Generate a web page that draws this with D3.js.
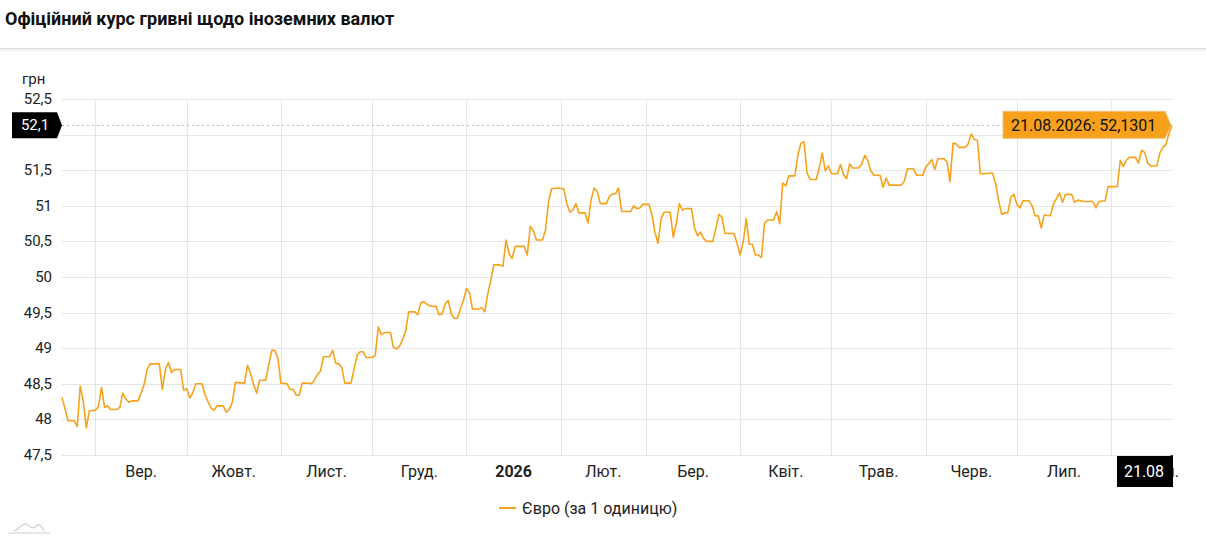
<!DOCTYPE html>
<html lang="uk">
<head>
<meta charset="UTF-8">
<title>Офіційний курс гривні</title>
<style>
  body { margin: 0; background: #fff; font-family: Roboto, "Open Sans", sans-serif; }
  .title { font-weight: bold; font-size: 18px; fill: #111; }
  .tick-label { font-size: 15px; fill: #222; }
  .x-label { font-size: 16px; fill: #222; }
</style>
</head>
<body>
<div id="chart"></div>
<script src="https://d3js.org/d3.v7.min.js"></script>
<script>
// euro rate (dates where the line turns)
var dates = [
  "2025-08-21","2025-08-23","2025-08-25","2025-08-26","2025-08-27","2025-08-28","2025-08-29","2025-08-30",
  "2025-09-01","2025-09-02","2025-09-03","2025-09-04","2025-09-05","2025-09-06","2025-09-08","2025-09-09",
  "2025-09-10","2025-09-11","2025-09-12","2025-09-13","2025-09-15","2025-09-16","2025-09-17","2025-09-18",
  "2025-09-19","2025-09-22","2025-09-23","2025-09-24","2025-09-25","2025-09-26","2025-09-27","2025-09-29",
  "2025-09-30","2025-10-01","2025-10-02","2025-10-03","2025-10-04","2025-10-06","2025-10-07","2025-10-08",
  "2025-10-09","2025-10-10","2025-10-11","2025-10-13","2025-10-14","2025-10-15","2025-10-16","2025-10-17",
  "2025-10-20","2025-10-21","2025-10-22","2025-10-23","2025-10-24","2025-10-25","2025-10-27","2025-10-28",
  "2025-10-29","2025-10-30","2025-10-31","2025-11-01","2025-11-03","2025-11-04","2025-11-05","2025-11-06",
  "2025-11-07","2025-11-08","2025-11-10","2025-11-11","2025-11-12","2025-11-13","2025-11-14","2025-11-15",
  "2025-11-17","2025-11-18","2025-11-19","2025-11-20","2025-11-21","2025-11-22","2025-11-24","2025-11-25",
  "2025-11-26","2025-11-27","2025-11-28","2025-11-29","2025-12-01","2025-12-02","2025-12-03","2025-12-04",
  "2025-12-05","2025-12-07","2025-12-08","2025-12-09","2025-12-10","2025-12-11","2025-12-12","2025-12-13",
  "2025-12-15","2025-12-16","2025-12-17","2025-12-18","2025-12-19","2025-12-20","2025-12-22","2025-12-23",
  "2025-12-24","2025-12-25","2025-12-26","2025-12-27","2025-12-28","2025-12-29","2025-12-30","2025-12-31",
  "2026-01-01","2026-01-02","2026-01-03","2026-01-05","2026-01-06","2026-01-07","2026-01-08","2026-01-09",
  "2026-01-10","2026-01-12","2026-01-13","2026-01-14","2026-01-15","2026-01-16","2026-01-17","2026-01-20",
  "2026-01-21","2026-01-22","2026-01-23","2026-01-24","2026-01-26","2026-01-27","2026-01-28","2026-01-29",
  "2026-01-31","2026-02-02","2026-02-03","2026-02-04","2026-02-05","2026-02-06","2026-02-07","2026-02-09",
  "2026-02-10","2026-02-11","2026-02-12","2026-02-13","2026-02-14","2026-02-16","2026-02-17","2026-02-18",
  "2026-02-19","2026-02-20","2026-02-21","2026-02-24","2026-02-25","2026-02-26","2026-02-27","2026-02-28",
  "2026-03-02","2026-03-03","2026-03-04","2026-03-05","2026-03-06","2026-03-07","2026-03-09","2026-03-10",
  "2026-03-11","2026-03-12","2026-03-13","2026-03-14","2026-03-16","2026-03-17","2026-03-18","2026-03-19",
  "2026-03-20","2026-03-21","2026-03-23","2026-03-24","2026-03-25","2026-03-26","2026-03-27","2026-03-30",
  "2026-03-31","2026-04-01","2026-04-02","2026-04-03","2026-04-04","2026-04-05","2026-04-06","2026-04-07",
  "2026-04-08","2026-04-09","2026-04-10","2026-04-12","2026-04-13","2026-04-14","2026-04-15","2026-04-16",
  "2026-04-17","2026-04-19","2026-04-20","2026-04-21","2026-04-22","2026-04-23","2026-04-24","2026-04-26",
  "2026-04-27","2026-04-28","2026-04-29","2026-04-30","2026-05-01","2026-05-03","2026-05-04","2026-05-05",
  "2026-05-06","2026-05-07","2026-05-08","2026-05-10","2026-05-11","2026-05-12","2026-05-13","2026-05-14",
  "2026-05-15","2026-05-17","2026-05-18","2026-05-19","2026-05-20","2026-05-24","2026-05-25","2026-05-26",
  "2026-05-28","2026-05-29","2026-05-31","2026-06-01","2026-06-02","2026-06-03","2026-06-04","2026-06-05",
  "2026-06-07","2026-06-08","2026-06-09","2026-06-10","2026-06-11","2026-06-12","2026-06-14","2026-06-15",
  "2026-06-16","2026-06-17","2026-06-18","2026-06-19","2026-06-20","2026-06-23","2026-06-24","2026-06-25",
  "2026-06-26","2026-06-27","2026-06-28","2026-06-29","2026-06-30","2026-07-01","2026-07-02","2026-07-03",
  "2026-07-05","2026-07-06","2026-07-07","2026-07-08","2026-07-09","2026-07-10","2026-07-12","2026-07-13",
  "2026-07-15","2026-07-16","2026-07-17","2026-07-19","2026-07-20","2026-07-21","2026-07-23","2026-07-26",
  "2026-07-27","2026-07-28","2026-07-30","2026-07-31","2026-08-03","2026-08-04","2026-08-05","2026-08-06",
  "2026-08-07","2026-08-09","2026-08-10","2026-08-11","2026-08-12","2026-08-13","2026-08-14","2026-08-16",
  "2026-08-17","2026-08-18","2026-08-19","2026-08-20","2026-08-21"
];
var values = [
  48.31,47.98,47.98,47.90,48.47,48.25,47.88,48.12,
  48.13,48.18,48.45,48.17,48.19,48.14,48.14,48.17,
  48.37,48.29,48.24,48.26,48.26,48.37,48.49,48.70,
  48.78,48.78,48.42,48.70,48.80,48.66,48.70,48.70,
  48.41,48.43,48.30,48.37,48.50,48.50,48.35,48.25,
  48.16,48.13,48.19,48.19,48.10,48.14,48.24,48.52,
  48.51,48.76,48.64,48.49,48.37,48.55,48.55,48.77,
  48.97,48.97,48.86,48.51,48.50,48.42,48.42,48.34,
  48.34,48.51,48.51,48.50,48.55,48.63,48.68,48.88,
  48.88,48.97,48.79,48.78,48.73,48.51,48.51,48.70,
  48.90,48.95,48.95,48.87,48.87,48.90,49.30,49.19,
  49.22,49.22,49.01,48.99,49.03,49.12,49.24,49.51,
  49.51,49.47,49.64,49.65,49.62,49.59,49.59,49.47,
  49.48,49.62,49.67,49.48,49.42,49.42,49.55,49.67,
  49.84,49.78,49.55,49.55,49.57,49.51,49.76,49.95,
  50.17,50.17,50.15,50.52,50.33,50.26,50.43,50.43,
  50.31,50.71,50.65,50.52,50.52,50.66,51.06,51.24,
  51.25,51.24,51.03,50.91,50.94,51.03,50.90,50.90,
  50.76,51.09,51.25,51.20,51.03,51.03,51.13,51.17,
  51.17,51.25,50.92,50.92,51.00,50.96,50.97,51.02,
  51.02,50.87,50.63,50.47,50.82,50.91,50.91,50.56,
  50.75,51.03,50.94,50.96,50.96,50.69,50.58,50.63,
  50.54,50.50,50.50,50.68,50.88,50.84,50.61,50.61,
  50.47,50.31,50.49,50.82,50.46,50.46,50.31,50.31,
  50.27,50.75,50.80,50.80,50.92,50.75,51.32,51.28,
  51.42,51.42,51.72,51.88,51.90,51.46,51.37,51.37,
  51.53,51.74,51.49,51.56,51.45,51.45,51.58,51.44,
  51.38,51.59,51.53,51.53,51.59,51.71,51.63,51.49,
  51.43,51.43,51.26,51.39,51.29,51.29,51.35,51.52,
  51.52,51.43,51.43,51.54,51.59,51.65,51.51,51.66,
  51.66,51.62,51.34,51.88,51.87,51.82,51.82,51.87,
  52.01,51.93,51.92,51.45,51.45,51.46,51.31,51.07,
  50.88,50.90,50.90,51.12,51.16,51.02,50.97,51.07,
  51.07,51.00,50.86,50.86,50.69,50.87,50.86,51.02,
  51.18,51.05,51.16,51.16,51.05,51.08,51.06,51.06,
  50.97,51.06,51.07,51.27,51.27,51.64,51.55,51.64,
  51.68,51.68,51.60,51.78,51.75,51.60,51.56,51.56,
  51.74,51.82,51.86,52.02,52.1301
];
var monthLabels = ["Вер.","Жовт.","Лист.","Груд.","2026","Лют.","Бер.","Квіт.","Трав.","Черв.","Лип.","Серп."];
var yTicks = [47.5,48,48.5,49,49.5,50,50.5,51,51.5,52,52.5];
var seriesName = "Євро (за 1 одиницю)";
var unitLabel = "грн";
var chartTitle = "Офіційний курс гривні щодо іноземних валют";

var W = 1206, H = 540;
var margin = { left: 62, right: 34, top: 99, bottom: 85 };
var lineColor = "#f7a21b";

var parse = d3.utcParse("%Y-%m-%d");
var data = dates.map(function (d, i) { return { date: parse(d), value: values[i] }; });
var last = data[data.length - 1];

var svg = d3.select("#chart").append("svg")
  .attr("width", W).attr("height", H)
  .style("font-family", "Roboto, 'Open Sans', sans-serif");

// title and separator
svg.append("text").attr("class", "title").attr("x", 5).attr("y", 25).text(chartTitle);
svg.append("rect").attr("x", 0).attr("y", 48).attr("width", W).attr("height", 1).attr("fill", "#d8d8d8");
svg.append("rect").attr("x", 0).attr("y", 49).attr("width", W).attr("height", 2).attr("fill", "#f0f0f0");

var x = d3.scaleUtc()
  .domain([data[0].date, last.date])
  .range([margin.left, W - margin.right]);
var y = d3.scaleLinear()
  .domain([47.5, 52.5])
  .range([H - margin.bottom, margin.top]);

var fmt = function (v) { return String(v).replace(".", ","); };
var ly = y(last.value), lx = x(last.date);

// horizontal grid
svg.append("g").selectAll("line").data(yTicks).enter().append("line")
  .attr("x1", margin.left).attr("x2", W - margin.right)
  .attr("y1", function (d) { return Math.round(y(d)) + 0.5; })
  .attr("y2", function (d) { return Math.round(y(d)) + 0.5; })
  .attr("stroke", "#e6e6e6");

// month grid lines
var months = d3.utcMonth.range(d3.utcMonth.ceil(data[0].date), last.date);
svg.append("g").selectAll("line").data(months).enter().append("line")
  .attr("x1", function (d) { return Math.round(x(d)) + 0.5; })
  .attr("x2", function (d) { return Math.round(x(d)) + 0.5; })
  .attr("y1", y(52.5)).attr("y2", y(47.5))
  .attr("stroke", "#e6e6e6");

// y tick labels (the one under the crosshair label is hidden, as in the original)
svg.append("g").selectAll("text")
  .data(yTicks.filter(function (d) { return Math.abs(y(d) - ly) > 16; }))
  .enter().append("text")
  .attr("class", "tick-label")
  .attr("x", 52).attr("y", function (d) { return y(d) + 5; })
  .attr("text-anchor", "end")
  .text(fmt);
svg.append("text").attr("class", "tick-label").attr("x", 22).attr("y", 84).text(unitLabel);

// month labels, centred in each month
svg.append("g").selectAll("text").data(months).enter().append("text")
  .attr("class", "x-label")
  .attr("x", function (d) { return (x(d) + x(d3.utcMonth.offset(d, 1))) / 2; })
  .attr("y", 477)
  .attr("text-anchor", "middle")
  .style("font-weight", function (d, i) { return monthLabels[i] === "2026" ? "bold" : null; })
  .text(function (d, i) { return monthLabels[i]; });

// series
var line = d3.line()
  .x(function (d) { return x(d.date); })
  .y(function (d) { return y(d.value); });
svg.append("path").datum(data)
  .attr("d", line)
  .attr("fill", "none")
  .attr("stroke", lineColor)
  .attr("stroke-width", 1.6)
  .attr("stroke-linejoin", "round");

// crosshair at the last value
svg.append("line")
  .attr("x1", margin.left).attr("x2", lx)
  .attr("y1", Math.round(ly) + 0.5).attr("y2", Math.round(ly) + 0.5)
  .attr("stroke", "#bbbbbb").attr("stroke-dasharray", "2,3");

// y crosshair label
var yl = svg.append("g");
yl.append("path")
  .attr("d", "M12," + (ly - 13) + "H57L62," + ly + "L57," + (ly + 13) + "H12Z")
  .attr("fill", "#000");
yl.append("text").attr("x", 35).attr("y", ly + 5).attr("text-anchor", "middle")
  .attr("fill", "#fff").style("font-size", "15px")
  .text(fmt(Math.floor(last.value * 10) / 10));

// x crosshair label
var xl = svg.append("g");
xl.append("path")
  .attr("d", "M" + (lx - 55) + ",456H" + (lx - 3) + "L" + (lx + 1) + "," + (H - margin.bottom) + "V487H" + (lx - 55) + "Z")
  .attr("fill", "#000");
xl.append("text").attr("x", lx - 28).attr("y", 477).attr("text-anchor", "middle")
  .attr("fill", "#fff").style("font-size", "16px")
  .text(d3.utcFormat("%d.%m")(last.date));

// tooltip
var tt = svg.append("g");
tt.append("path")
  .attr("d", "M" + (lx - 169) + "," + (ly - 14) + "H" + (lx - 7) + "L" + (lx - 1) + "," + ly +
    "L" + (lx - 7) + "," + (ly + 13) + "H" + (lx - 169) + "Z")
  .attr("fill", "#f7a01b")
  .attr("stroke", "#f0c070").attr("stroke-width", 1);
tt.append("text").attr("x", lx - 161).attr("y", ly + 6)
  .attr("fill", "#111").style("font-size", "16px")
  .text(d3.utcFormat("%d.%m.%Y")(last.date) + ": " + fmt(last.value));

// legend
var lg = svg.append("g");
lg.append("line").attr("x1", 499).attr("x2", 516).attr("y1", 508).attr("y2", 508)
  .attr("stroke", lineColor).attr("stroke-width", 2);
lg.append("text").attr("x", 522).attr("y", 514).style("font-size", "16px").attr("fill", "#222")
  .text(seriesName);

// little logo bottom-left
var logo = svg.append("g").attr("fill", "none").attr("stroke", "#cfcfcf").attr("stroke-width", 1.2);
logo.append("path").attr("d", "M8,533H50");
logo.append("path").attr("d", "M14,531C20,529 22,523 26,524C30,525 31,530 35,527C38,524 40,523 44,531");
</script>
</body>
</html>
